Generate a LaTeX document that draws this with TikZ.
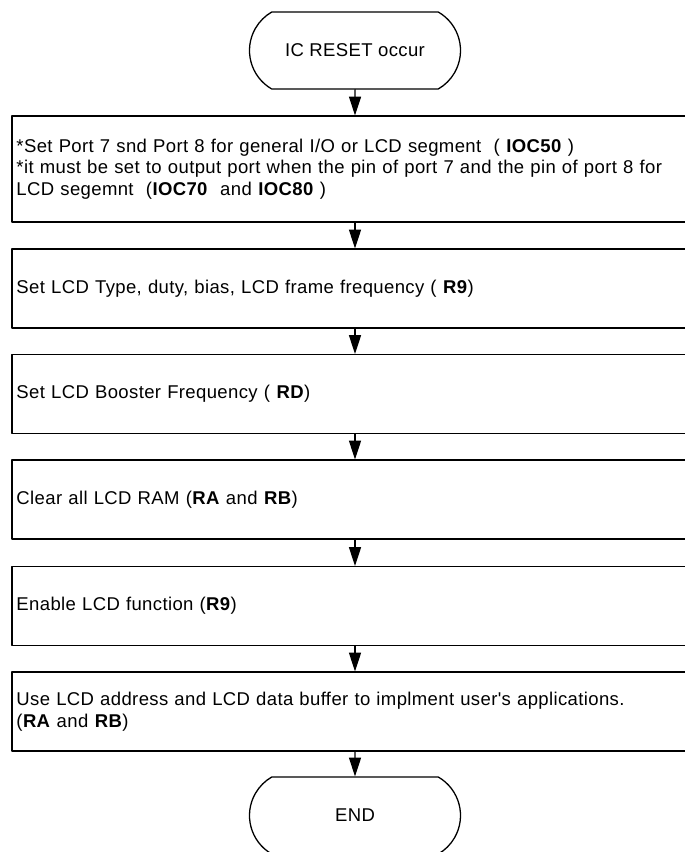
\documentclass[tikz,border=0pt]{standalone}
\usepackage{fontspec}
\setmainfont{Liberation Sans}[Ligatures=TeXOff,LetterSpace=2]
\usetikzlibrary{calc,arrows.meta,shapes.misc}

\begin{document}
\begin{tikzpicture}[line join=round, line cap=round,>={Triangle[length=5.6mm,width=3.6mm]},line width=1.1pt,
	buoc/.style={draw,rectangle,text width=20.31cm,align=left,inner xsep=0.135cm,inner ysep=0pt,minimum height=2.37cm,font=\fontsize{15.8}{18.6}\selectfont},
	dau/.style={draw,rounded rectangle,rounded rectangle arc length=120,minimum width=6.33cm,minimum height=2.31cm,inner sep=0pt,font=\fontsize{15.8}{18.6}\selectfont}]
	% Khung
	\useasboundingbox (0,0) rectangle (20.55,-25.56);
	\clip (0,0) rectangle (20.55,-25.56);
	\node[dau] (start) at (10.65,-1.515) {IC RESET occur};
	\node[buoc,minimum height=3.18cm] (b1) at (10.65,-5.07) {*Set Port 7 snd Port 8 for general I/O or LCD segment~ ( \textbf{IOC50} )\\
		{}*it must be set to output port when the pin of port 7 and the pin of port 8 for\\
		LCD segemnt~ (\textbf{IOC70}~ and \textbf{IOC80} )};
	\node[buoc] (b2) at (10.65,-8.655) {Set LCD Type, duty, bias, LCD frame frequency ( \textbf{R9})};
	\node[buoc] (b3) at (10.65,-11.82) {Set LCD Booster Frequency ( \textbf{RD})};
	\node[buoc] (b4) at (10.65,-14.985) {Clear all LCD RAM (\textbf{RA} and \textbf{RB})};
	\node[buoc] (b5) at (10.65,-18.18) {Enable LCD function (\textbf{R9})};
	\node[buoc] (b6) at (10.65,-21.345) {Use LCD address and LCD data buffer to implment user's applications.\\
		(\textbf{RA} and \textbf{RB})};
	\node[dau] (end) at (10.65,-24.465) {END};
	% Mui ten
	\draw[->] (start)--(b1);
	\draw[->] (b1)--(b2);
	\draw[->] (b2)--(b3);
	\draw[->] (b3)--(b4);
	\draw[->] (b4)--(b5);
	\draw[->] (b5)--(b6);
	\draw[->] (b6)--(end);
\end{tikzpicture}
\end{document}
